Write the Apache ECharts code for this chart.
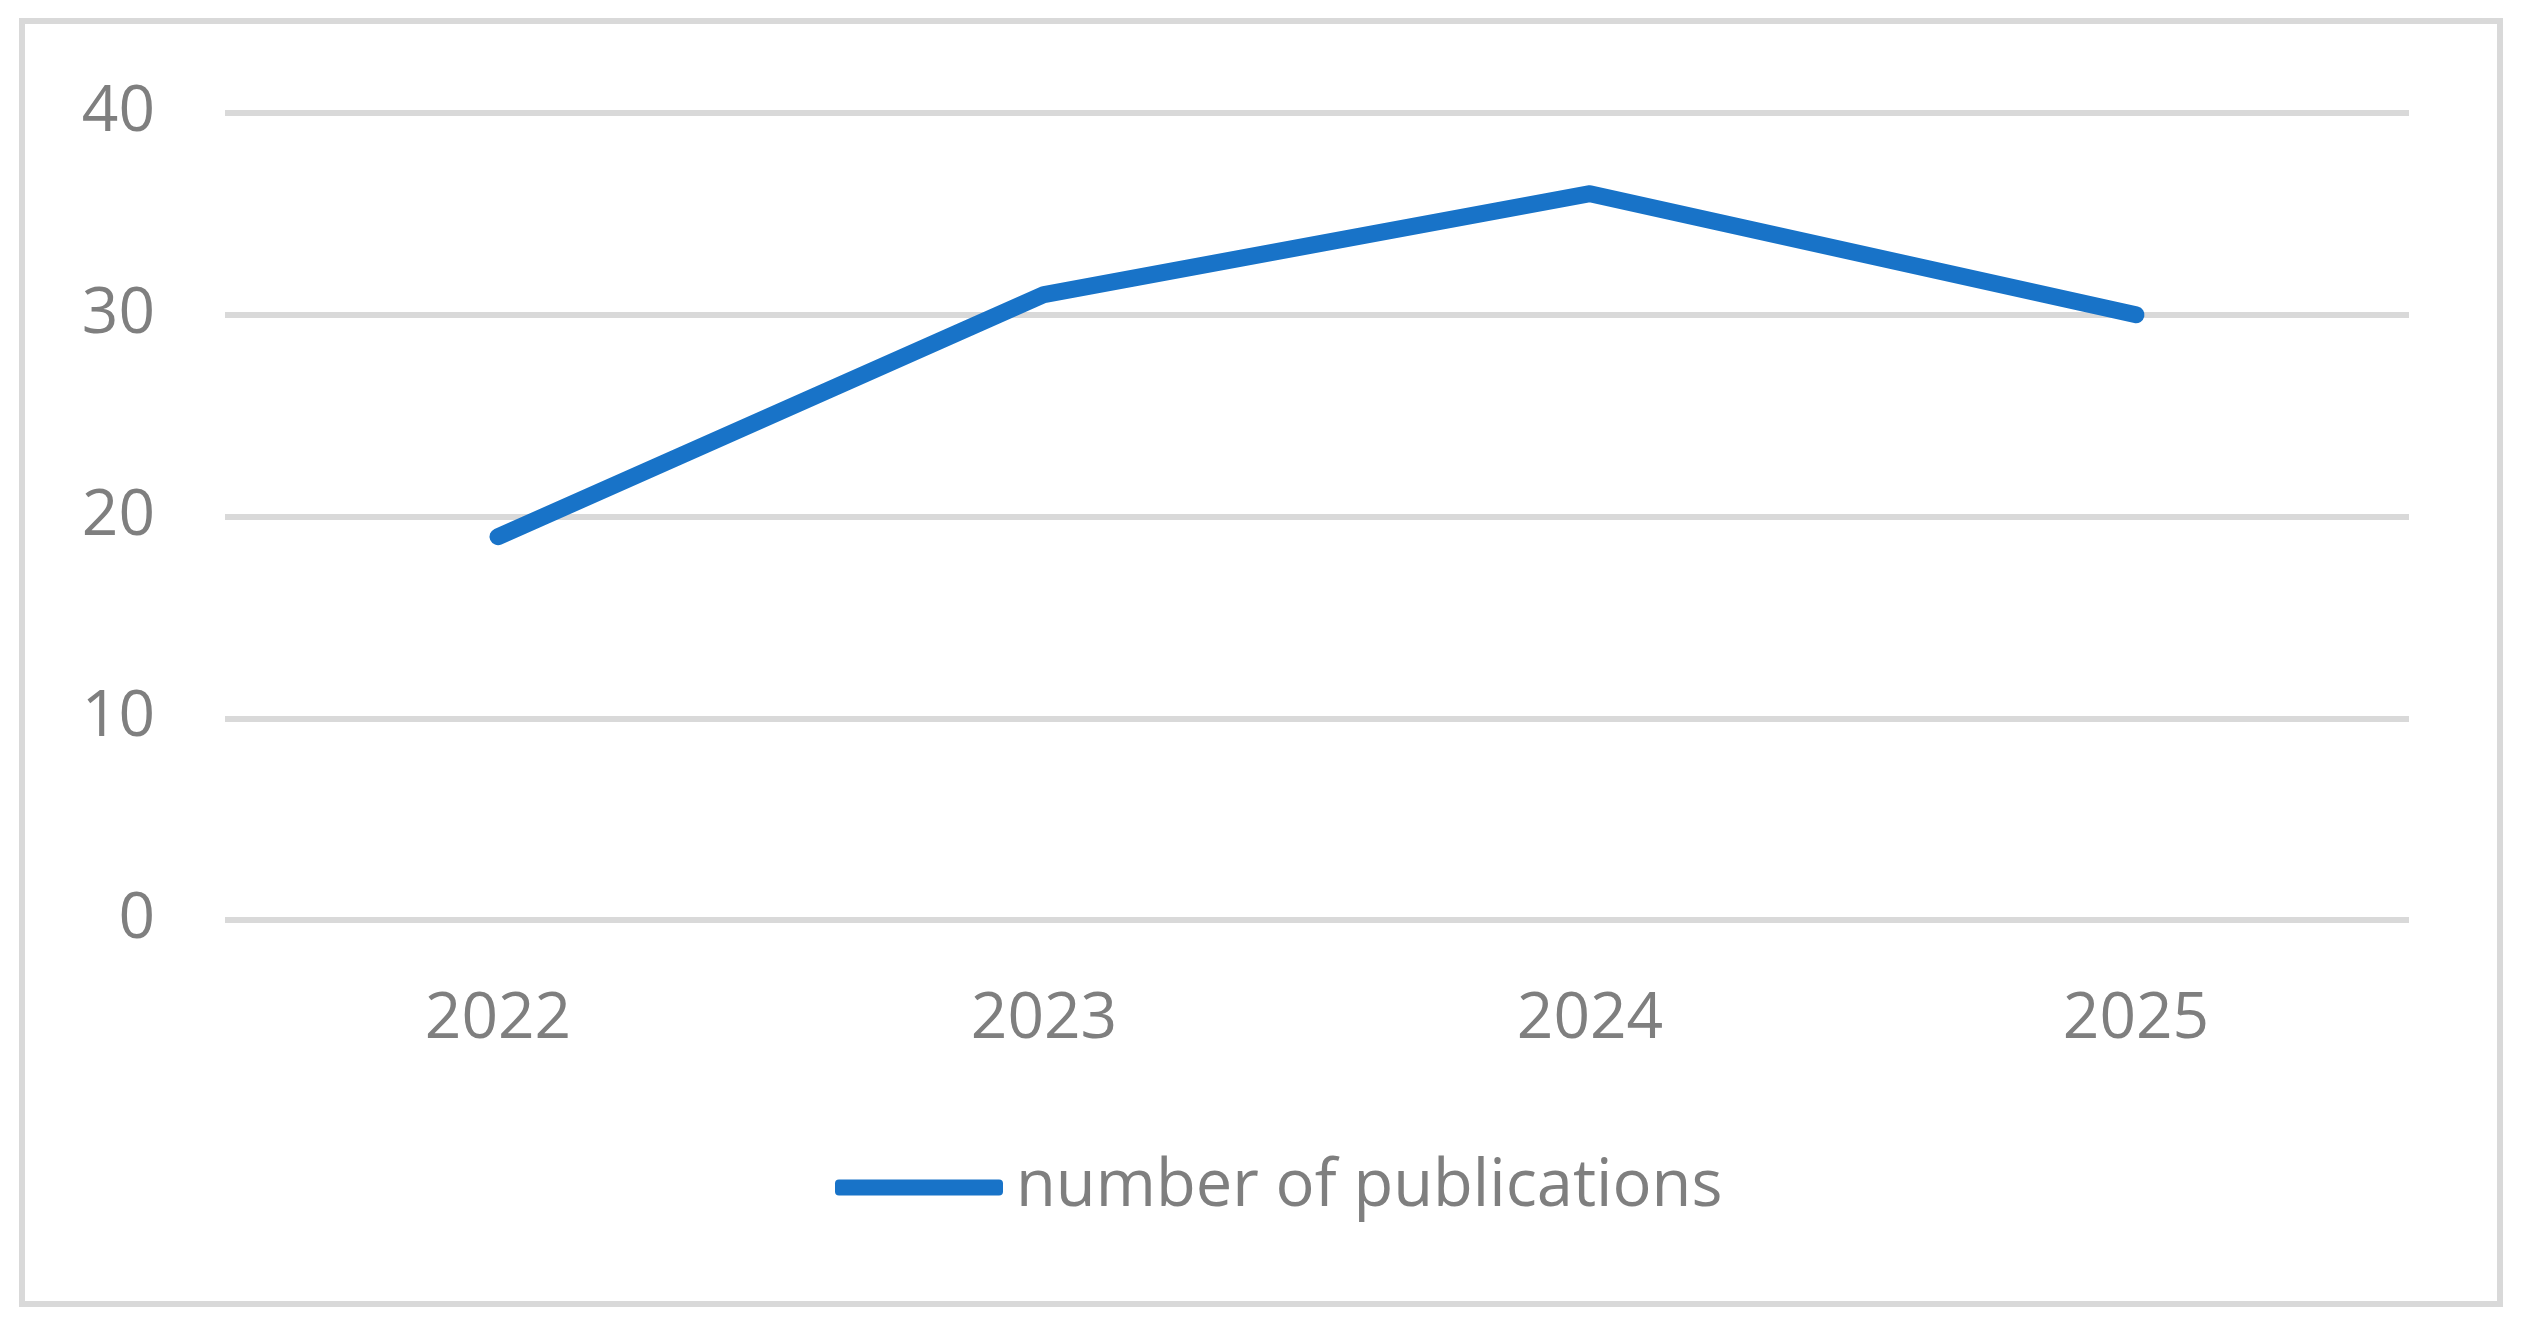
<!DOCTYPE html>
<html>
<head>
<meta charset="utf-8">
<script src="https://cdn.jsdelivr.net/npm/echarts@6/dist/echarts.min.js"></script>
<style>
  html, body { margin: 0; padding: 0; background: #fff; }
  #chart { width: 2522px; height: 1329px; }
</style>
</head>
<body>
<div id="chart"></div>
<script>
const years = ['2022', '2023', '2024', '2025'];
const publications = [19, 31, 36, 30];
const seriesName = 'number of publications';

const grey = '#7f7f7f';
const gridGrey = '#d9d9d9';
const blue = '#1873c8';
const font = '"Open Sans", "Noto Sans", sans-serif';

const chart = echarts.init(document.getElementById('chart'));
chart.setOption({
  backgroundColor: '#fff',
  animation: false,
  grid: { left: 225, right: 113, top: 113, bottom: 409, containLabel: false },
  legend: {
    data: [seriesName],
    bottom: 104,
    left: 830,
    icon: 'roundRect',
    itemWidth: 168,
    itemHeight: 16,
    textStyle: { color: grey, fontSize: 65, fontFamily: font, padding: [0, 0, 0, 8] }
  },
  xAxis: {
    type: 'category',
    data: years,
    boundaryGap: true,
    axisLine: { show: false },
    axisTick: { show: false },
    axisLabel: { color: grey, fontSize: 64, fontFamily: font, margin: 68 }
  },
  yAxis: {
    type: 'value',
    min: 0,
    max: 40,
    interval: 10,
    axisLine: { show: false },
    axisTick: { show: false },
    axisLabel: { color: grey, fontSize: 64, fontFamily: font, margin: 70 },
    splitLine: { lineStyle: { color: gridGrey, width: 6 } }
  },
  series: [{
    name: seriesName,
    type: 'line',
    data: publications,
    symbol: 'none',
    itemStyle: { color: blue },
    lineStyle: { color: blue, width: 17, cap: 'round', join: 'round' }
  }],
  graphic: [{
    type: 'rect',
    shape: { x: 22, y: 21, width: 2478, height: 1283 },
    style: { fill: 'none', stroke: gridGrey, lineWidth: 6 },
    silent: true
  }]
});
</script>
</body>
</html>
